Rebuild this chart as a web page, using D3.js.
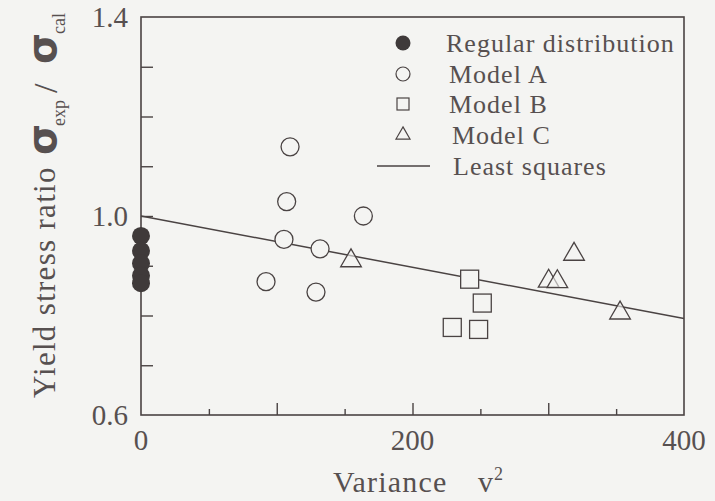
<!DOCTYPE html>
<html>
<head>
<meta charset="utf-8">
<script src="https://cdn.jsdelivr.net/npm/d3@7/dist/d3.min.js"></script>
<style>
  html, body { margin: 0; padding: 0; background: #f4f4f2; }
  svg { display: block; }
</style>
</head>
<body>
<svg id="chart" width="715" height="501"></svg>
<script>
// Yield stress ratio (experimental / calculated) against variance v^2
const regularY = [0.96, 0.93, 0.905, 0.88, 0.865];          // regular distribution, all at v^2 = 0
const modelA_x = [109.8, 107.3, 163.8, 105.3, 131.9, 92.1, 128.9];
const modelA_y = [1.139, 1.029, 1.0, 0.953, 0.934, 0.868, 0.847];
const modelB_x = [242.1, 251.4, 229.3, 248.7];
const modelB_y = [0.873, 0.825, 0.776, 0.772];
const modelC_x = [154.7, 319.0, 300.3, 306.7, 352.9];
const modelC_y = [0.910, 0.923, 0.869, 0.868, 0.805];
// least-squares fit: ratio = a + b * v^2
const fitA = 1.0, fitB = -0.000515;

const xTickLabels = [0, 200, 400];
const yTickLabels = [0.6, 1.0, 1.4];
const legendLabels = ["Regular distribution", "Model A", "Model B", "Model C", "Least squares"];

const SERIF = "Liberation Serif";
const svg = d3.select("#chart").attr("font-family", SERIF);
const ink = "#4a4343";
const txt = "#575050";
const bg = "#f4f4f2";
const m = { left: 141, top: 17, right: 31, bottom: 86 };
const W = 715 - m.left - m.right, H = 501 - m.top - m.bottom;

const x = d3.scaleLinear().domain([0, 400]).range([0, W]);
const y = d3.scaleLinear().domain([0.6, 1.4]).range([H, 0]);

const g = svg.append("g").attr("transform", `translate(${m.left},${m.top})`);

// frame
g.append("rect").attr("width", W).attr("height", H)
  .attr("fill", "none").attr("stroke", ink).attr("stroke-width", 1.6);

// inward ticks: x every 50 (long at the hundreds), y every 0.1
const xAxis = g.append("g").attr("transform", `translate(0,${H})`)
  .call(d3.axisBottom(x).tickValues(d3.range(50, 400, 50)).tickFormat("").tickSizeOuter(0)
    .tickSizeInner(-6));
xAxis.select(".domain").remove();
xAxis.selectAll(".tick line").attr("stroke", ink).attr("stroke-width", 1.4)
  .attr("y2", d => d % 100 === 0 ? -12 : -6);

const yAxis = g.append("g")
  .call(d3.axisLeft(y).tickValues(d3.range(0.7, 1.35, 0.1)).tickFormat("").tickSizeOuter(0)
    .tickSizeInner(-12));
yAxis.select(".domain").remove();
yAxis.selectAll(".tick line").attr("stroke", ink).attr("stroke-width", 1.4);

// tick labels
g.selectAll(".xl").data(xTickLabels).join("text")
  .attr("fill", txt)
  .attr("x", d => x(d)).attr("y", H + 35)
  .attr("text-anchor", "middle").attr("font-size", 29).text(d => d);
g.selectAll(".yl").data(yTickLabels).join("text")
  .attr("fill", txt)
  .attr("x", -13).attr("y", d => y(d)).attr("dy", "0.35em")
  .attr("text-anchor", "end").attr("font-size", 29).text(d => d.toFixed(1));

// x-axis title
const xt = svg.append("text").attr("fill", txt).attr("y", 492).attr("font-size", 30);
xt.append("tspan").attr("x", 333).attr("letter-spacing", 1.2).text("Variance");
xt.append("tspan").attr("x", 478).text("v");
xt.append("tspan").attr("dy", -12).attr("dx", 1).attr("font-size", 18).text("2");

// y-axis title (rotated; x runs along the text, y across it)
const yt = svg.append("text").attr("fill", txt)
  .attr("transform", "translate(55,398) rotate(-90)").attr("font-size", 31);
yt.append("tspan").attr("x", 0).attr("y", 0).attr("letter-spacing", 1.3).text("Yield stress ratio");
yt.append("tspan").attr("x", 243).attr("y", 1).attr("font-family", "DejaVu Sans")
  .attr("font-weight", "bold").attr("font-size", 40).text("σ");
yt.append("tspan").attr("x", 272).attr("y", 10).attr("font-size", 18).text("exp");
yt.append("tspan").attr("x", 305).attr("y", 2).attr("font-size", 34).text("/");
yt.append("tspan").attr("x", 334).attr("y", 1).attr("font-family", "DejaVu Sans")
  .attr("font-weight", "bold").attr("font-size", 40).text("σ");
yt.append("tspan").attr("x", 364).attr("y", 10).attr("font-size", 18).text("cal");

// least-squares line
g.append("line")
  .attr("x1", x(0)).attr("y1", y(fitA))
  .attr("x2", x(400)).attr("y2", y(fitA + fitB * 400))
  .attr("stroke", ink).attr("stroke-width", 1.5);

const tri = d3.symbol().type(d3.symbolTriangle).size(185);

// markers
g.selectAll(".reg").data(regularY).join("circle")
  .attr("cx", x(0)).attr("cy", d => y(d)).attr("r", 9).attr("fill", "#3f3a3a");
g.selectAll(".ma").data(modelA_x).join("circle")
  .attr("cx", d => x(d)).attr("cy", (d, i) => y(modelA_y[i])).attr("r", 9)
  .attr("fill", bg).attr("stroke", ink).attr("stroke-width", 1.3);
g.selectAll(".mb").data(modelB_x).join("rect")
  .attr("x", d => x(d) - 9).attr("y", (d, i) => y(modelB_y[i]) - 9)
  .attr("width", 18).attr("height", 18)
  .attr("fill", bg).attr("stroke", ink).attr("stroke-width", 1.3);
g.selectAll(".mc").data(modelC_x).join("path")
  .attr("d", tri)
  .attr("transform", (d, i) => `translate(${x(d)},${y(modelC_y[i])})`)
  .attr("fill", bg).attr("fill-opacity", 0.6).attr("stroke", ink).attr("stroke-width", 1.3);

// legend
const lg = svg.append("g");
const rowY = [43, 74, 104, 135, 166];
const rowX = [446, 449, 449, 452, 453];
lg.selectAll("text").data(legendLabels).join("text")
  .attr("fill", txt)
  .attr("x", (d, i) => rowX[i]).attr("y", (d, i) => rowY[i]).attr("dy", "0.35em")
  .attr("font-size", 26).attr("letter-spacing", 1.0).text(d => d);
lg.append("circle").attr("cx", 403).attr("cy", rowY[0]).attr("r", 7.5).attr("fill", "#3f3a3a");
lg.append("circle").attr("cx", 403).attr("cy", rowY[1]).attr("r", 7)
  .attr("fill", "none").attr("stroke", ink).attr("stroke-width", 1.2);
lg.append("rect").attr("x", 397).attr("y", rowY[2] - 6).attr("width", 12).attr("height", 12)
  .attr("fill", "none").attr("stroke", ink).attr("stroke-width", 1.2);
lg.append("path").attr("d", d3.symbol().type(d3.symbolTriangle).size(85))
  .attr("transform", `translate(403,${rowY[3]})`)
  .attr("fill", "none").attr("stroke", ink).attr("stroke-width", 1.2);
lg.append("line").attr("x1", 377).attr("x2", 430).attr("y1", rowY[4]).attr("y2", rowY[4])
  .attr("stroke", ink).attr("stroke-width", 1.4);
</script>
</body>
</html>
